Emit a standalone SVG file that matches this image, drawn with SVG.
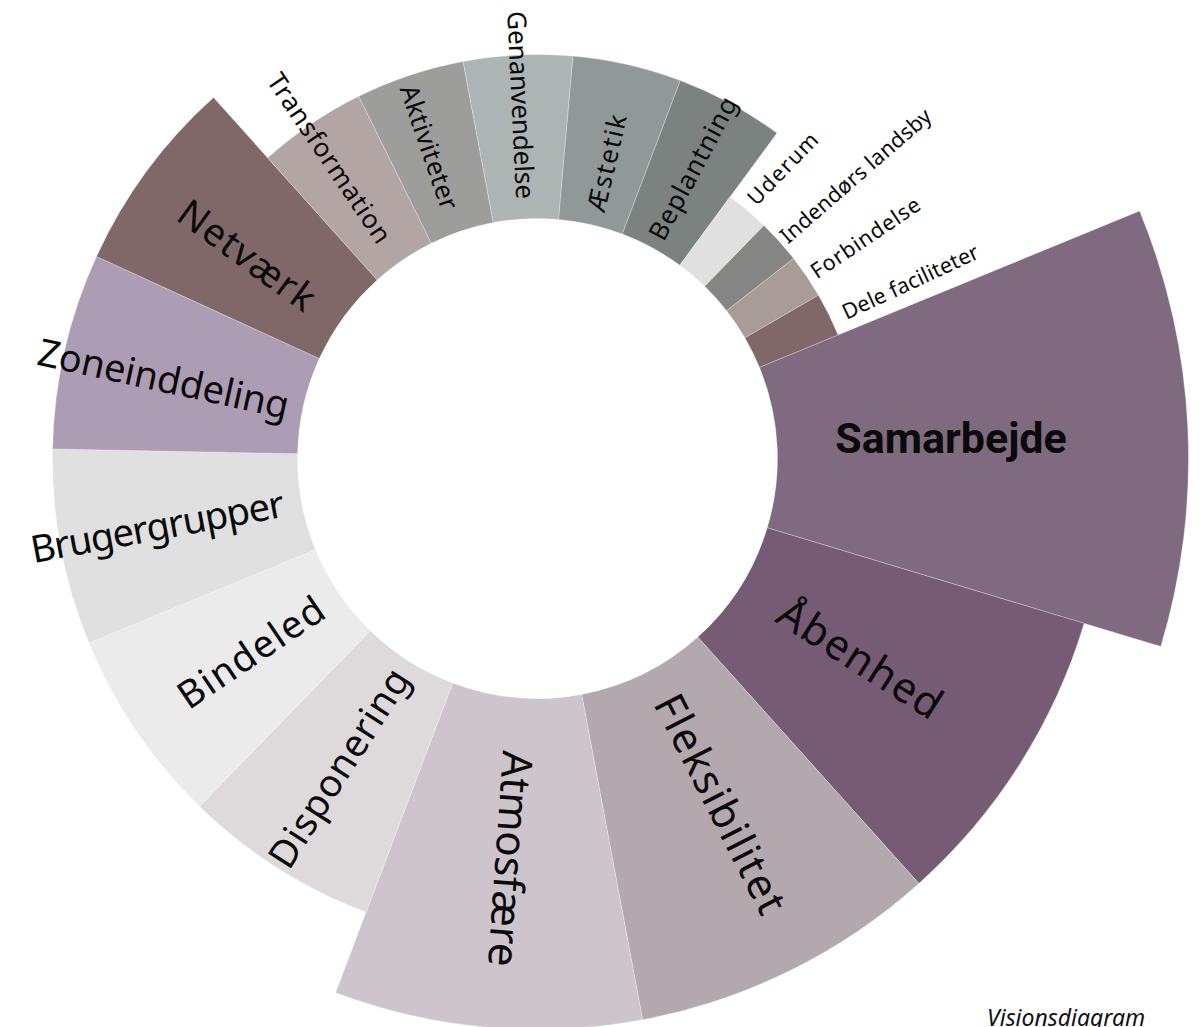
<svg xmlns="http://www.w3.org/2000/svg" width="1201" height="1027" viewBox="0 0 1201 1027">
<style>
  .seg { stroke: #ffffff; stroke-opacity: 0.35; stroke-width: 0.8; }
  .lbl { font-family: "Noto Sans", "Open Sans", "DejaVu Sans", sans-serif; fill: #0a0a0a; text-anchor: middle; dominant-baseline: central; }
  .l4 { font-size: 42px; }
  .l3 { font-size: 38px; }
  .l2 { font-size: 26px; }
  .l1 { font-size: 21.5px; }
  .main { font-family: Roboto, "Liberation Sans", sans-serif; font-weight: bold; font-size: 43px; fill: #0a0a0a; text-anchor: middle; }
  .cap { font-family: "Noto Sans", "Open Sans", sans-serif; font-style: italic; font-size: 23px; fill: #111; }
</style>
<rect width="1201" height="1027" fill="#ffffff"/>
<g id="samarbejde">
  <path class="seg" fill="#7f6a80" d="M759.47,367.24 L1139.60,210.94 A651,651 0 0 1 1160.78,646.44 L767.28,527.79 A240,240 0 0 0 759.47,367.24Z"/>
  <text class="main" x="951" y="453">Samarbejde</text>
</g>
<g id="aabenhed">
  <path class="seg" fill="#755b73" d="M767.28,527.79 L1084.19,623.35 A571,571 0 0 1 918.91,883.43 L697.81,637.11 A240,240 0 0 0 767.28,527.79Z"/>
  <text class="lbl l4" transform="translate(861,657) rotate(32.5)" textLength="186">Åbenhed</text>
</g>
<g id="fleksibilitet">
  <path class="seg" fill="#b3a8ae" d="M697.81,637.11 L918.91,883.43 A571,571 0 0 1 642.64,1019.77 L581.69,694.41 A240,240 0 0 0 697.81,637.11Z"/>
  <text class="lbl l4" transform="translate(722,803) rotate(63)" textLength="240">Fleksibilitet</text>
</g>
<g id="atmosfaere">
  <path class="seg" fill="#cec4cb" d="M581.69,694.41 L642.64,1019.77 A571,571 0 0 1 335.65,992.68 L452.66,683.02 A240,240 0 0 0 581.69,694.41Z"/>
  <text class="lbl l4" transform="translate(512,859) rotate(94)" textLength="216">Atmosfære</text>
</g>
<g id="disponering">
  <path class="seg" fill="#dedadb" d="M452.66,683.02 L366.05,912.22 A485,485 0 0 1 199.55,806.38 L370.27,630.65 A240,240 0 0 0 452.66,683.02Z"/>
  <text class="lbl l3" transform="translate(337.5,767) rotate(-57.5)" textLength="228">Disponering</text>
</g>
<g id="bindeled">
  <path class="seg" fill="#ebebeb" d="M370.27,630.65 L199.55,806.38 A485,485 0 0 1 88.93,642.93 L315.53,549.76 A240,240 0 0 0 370.27,630.65Z"/>
  <text class="lbl l3" transform="translate(250,651) rotate(-34)" textLength="168">Bindeled</text>
</g>
<g id="brugergrupper">
  <path class="seg" fill="#e0e0e0" d="M315.53,549.76 L88.93,642.93 A485,485 0 0 1 52.59,448.94 L297.55,453.77 A240,240 0 0 0 315.53,549.76Z"/>
  <text class="lbl l3" transform="translate(157,525) rotate(-10.5)" textLength="257">Brugergrupper</text>
</g>
<g id="zoneinddeling">
  <path class="seg" fill="#ad9db4" d="M297.55,453.77 L52.59,448.94 A485,485 0 0 1 96.53,256.51 L319.29,358.55 A240,240 0 0 0 297.55,453.77Z"/>
  <text class="lbl l3" transform="translate(164,377) rotate(12.3)" textLength="256">Zoneinddeling</text>
</g>
<g id="netvaerk">
  <path class="seg" fill="#7f6867" d="M319.29,358.55 L96.53,256.51 A485,485 0 0 1 213.54,97.57 L377.19,279.89 A240,240 0 0 0 319.29,358.55Z"/>
  <text class="lbl l3" transform="translate(248,254) rotate(36)" textLength="160">Netværk</text>
</g>
<g id="transformation">
  <path class="seg" fill="#b2a5a4" d="M377.19,279.89 L267.64,157.85 A404,404 0 0 1 358.75,96.19 L431.31,243.27 A240,240 0 0 0 377.19,279.89Z"/>
  <text class="lbl l2" transform="translate(330,157.5) rotate(55.9)" textLength="199">Transformation</text>
</g>
<g id="aktiviteter">
  <path class="seg" fill="#9d9e9c" d="M431.31,243.27 L358.75,96.19 A404,404 0 0 1 463.11,61.38 L493.31,222.59 A240,240 0 0 0 431.31,243.27Z"/>
  <text class="lbl l2" transform="translate(430,147) rotate(71)" textLength="130">Aktiviteter</text>
</g>
<g id="genanvendelse">
  <path class="seg" fill="#adb4b4" d="M493.31,222.59 L463.11,61.38 A404,404 0 0 1 572.99,56.06 L558.58,219.43 A240,240 0 0 0 493.31,222.59Z"/>
  <text class="lbl l2" transform="translate(521.7,105) rotate(87.3)" textLength="188">Genanvendelse</text>
</g>
<g id="aestetik">
  <path class="seg" fill="#909997" d="M558.58,219.43 L572.99,56.06 A404,404 0 0 1 680.31,80.55 L622.34,233.98 A240,240 0 0 0 558.58,219.43Z"/>
  <text class="lbl l2" transform="translate(606,163) rotate(-77)" textLength="99">Æstetik</text>
</g>
<g id="beplantning">
  <path class="seg" fill="#7b8280" d="M622.34,233.98 L680.31,80.55 A404,404 0 0 1 776.96,133.11 L679.76,265.20 A240,240 0 0 0 622.34,233.98Z"/>
  <text class="lbl l2" transform="translate(692,168) rotate(-62)" textLength="158">Beplantning</text>
</g>
<g id="uderum">
  <path class="seg" fill="#e0e0e0" d="M679.76,265.20 L730.14,196.74 A325,325 0 0 1 763.96,225.38 L704.73,286.35 A240,240 0 0 0 679.76,265.20Z"/>
  <text class="lbl l1" transform="translate(782,168) rotate(-46)" textLength="91">Uderum</text>
</g>
<g id="indendoers-landsby">
  <path class="seg" fill="#858683" d="M704.73,286.35 L763.96,225.38 A325,325 0 0 1 793.60,258.41 L726.62,310.74 A240,240 0 0 0 704.73,286.35Z"/>
  <text class="lbl l1" transform="translate(855,175) rotate(-41)" textLength="192">Indendørs landsby</text>
</g>
<g id="forbindelse">
  <path class="seg" fill="#a99b98" d="M726.62,310.74 L793.60,258.41 A325,325 0 0 1 818.48,295.16 L744.99,337.88 A240,240 0 0 0 726.62,310.74Z"/>
  <text class="lbl l1" transform="translate(865,237) rotate(-34)" textLength="127">Forbindelse</text>
</g>
<g id="dele-faciliteter">
  <path class="seg" fill="#7f6867" d="M744.99,337.88 L818.48,295.16 A325,325 0 0 1 838.08,334.91 L759.47,367.24 A240,240 0 0 0 744.99,337.88Z"/>
  <text class="lbl l1" transform="translate(910,281) rotate(-25)" textLength="148">Dele faciliteter</text>
</g>
<text class="cap" x="987" y="1026">Visionsdiagram</text>
</svg>
